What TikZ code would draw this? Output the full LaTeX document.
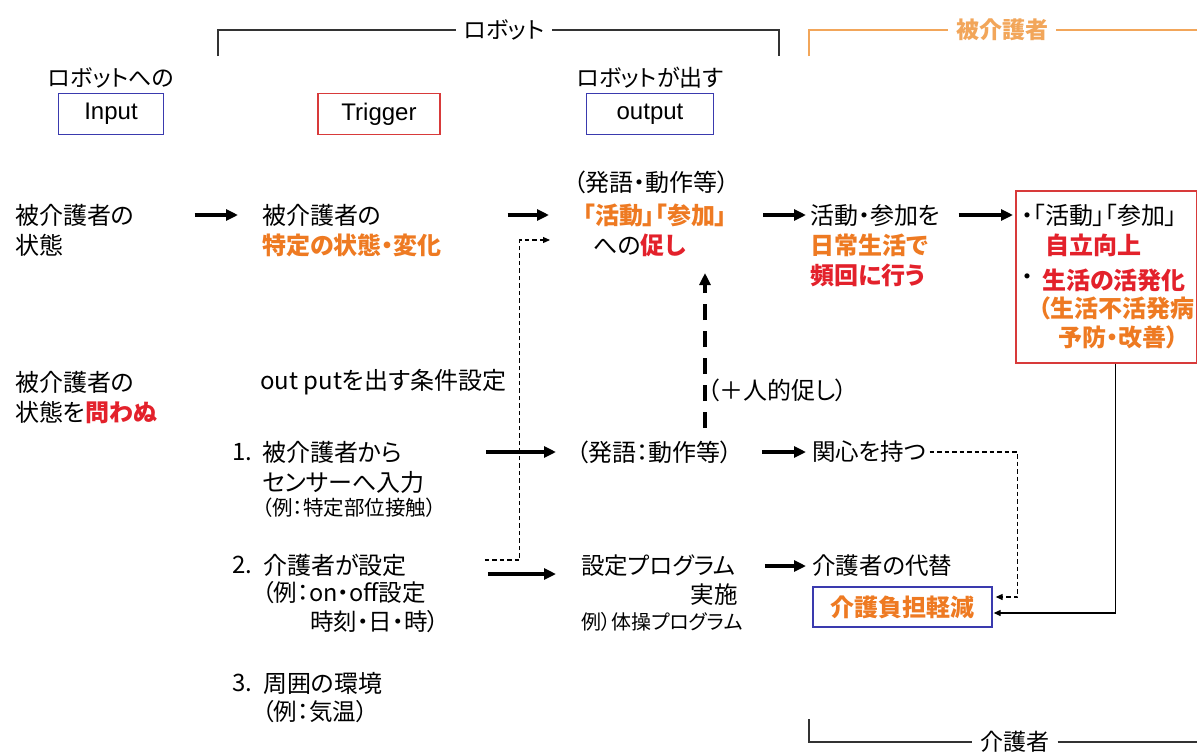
\documentclass[tikz,border=0pt]{standalone}
\usepackage{fontspec}
\setmainfont{Noto Sans CJK JP}[RawFeature=+palt]
\newfontfamily\arialf{Liberation Sans}
\usetikzlibrary{arrows.meta}
\definecolor{org}{HTML}{EE7A22}
\definecolor{rd}{HTML}{E3212B}
\definecolor{brk}{HTML}{F2A65A}
\definecolor{bxblue}{HTML}{3A3AAE}
\definecolor{bxred}{HTML}{D83A3A}
\newcommand\fz[1]{\fontsize{#1}{#1}\selectfont}
\newcommand\og[1]{{\bfseries\color{org}#1}}
\newcommand\rg[1]{{\bfseries\color{rd}#1}}

\begin{document}
\begin{tikzpicture}[x=1pt,y=-1pt,
  t/.style={inner sep=0pt, anchor=west, font=\fz{24}},
  tm/.style={inner sep=0pt, anchor=west, font=\fz{23.5}},
  ts/.style={inner sep=0pt, anchor=west, font=\fz{20.5}},
  hdr/.style={inner sep=0pt, font=\fz{23}},
  blbl/.style={inner xsep=8pt, inner ysep=0pt, font=\fz{23}},
  tag/.style={draw, line width=1.3pt, minimum height=41pt, inner sep=0pt, font=\arialf\fz{24}},
  brline/.style={line width=1.2pt, draw=black!80},
  arr/.style={line width=3.2pt, -{Triangle[length=12pt,width=11pt]}},
  thinarr/.style={line width=1.1pt, -{Triangle[length=7pt,width=6pt]}},
  dsh/.style={thinarr, dash pattern=on 4.5pt off 3pt},
  tdash/.style={line width=3.2pt, dash pattern=on 16pt off 11pt, -{Triangle[length=12pt,width=11pt]}},
]
\fill[white] (0,0) rectangle (1197,753);
\useasboundingbox (0,0) rectangle (1197,753);

% ---- brackets ----
\node[blbl] (robot) at (504,30) {ロボット};
\coordinate (rbL) at (218,56);
\coordinate (rbR) at (779,56);
\draw[brline] (rbL) |- (robot.west);
\draw[brline] (robot.east) -| (rbR);

\node[blbl, text=brk, font=\fz{23}\bfseries] (care) at (1002,30) {被介護者};
\coordinate (cbL) at (809,56);
\coordinate (cbR) at (1197,30);
\draw[brline, draw=brk] (cbL) |- (care.west);
\draw[brline, draw=brk] (care.east) -- (cbR);

\node[blbl] (carer) at (1015,742) {介護者};
\coordinate (kbL) at (809,719);
\coordinate (kbR) at (1197,742);
\draw[brline] (kbL) |- (carer.west);
\draw[brline] (carer.east) -- (kbR);

% ---- headers ----
\node[hdr] (inlbl) at (111,78) {ロボットへの};
\node[tag, draw=bxblue, minimum width=105pt] (input) at (111,114) {Input};
\node[tag, draw=bxred, minimum width=122pt] (trig) at (379,114) {Trigger};
\node[hdr] (outlbl) at (650,78) {ロボットが出す};
\node[tag, draw=bxblue, minimum width=127pt] (outp) at (650,114) {output};

% ---- row 1 ----
\node[t] (s1a) at (15,215) {被介護者の};
\node[t] (s1b) at (15,245) {状態};
\node[t] (t1a) at (262,215) {被介護者の};
\node[t] (t1b) at (262,245) {\og{特定の状態・変化}};
\node[t] (o0) at (573,182) {（発語・動作等）};
\node[t] (o1a) at (583,215) {\og{「活動」「参加」}};
\node[t] (o1b) at (593,245) {への\rg{促し}};
\node[t] (r1a) at (810,215) {活動・参加を};
\node[t] (r1b) at (810,245) {\og{日常生活で}};
\node[t] (r1c) at (810,275) {\rg{頻回に行う}};

% red result box
\node[draw=bxred, line width=1.6pt, anchor=north west, minimum width=181pt, minimum height=172pt, inner sep=0pt] (rb) at (1015,190) {};
\node[t] (rb1) at (1021,215) {・「活動」「参加」};
\node[t] (rb2) at (1045,245) {\rg{自立向上}};
\node[t] (rb3d) at (1021,280) {・};
\node[t] (rb3) at (1042,280) {\rg{生活の活発化}};
\node[t] (rb4) at (1038,308) {\og{（生活不活発病}};
\node[t] (rb5) at (1058,337) {\og{予防・改善）}};

% ---- row 2 ----
\node[t] (s2a) at (15,382) {被介護者の};
\node[t] (s2b) at (15,412) {状態を\rg{問わぬ}};
\node[t] (cond) at (260,382) {out putを出す条件設定};
\node[t] (hum) at (707,390) {（＋人的促し）};

% ---- conditions ----
\node[t] (n1) at (232,452) {1.};
\node[t] (i1a) at (262,452) {被介護者から};
\node[t] (i1b) at (262,482) {センサーへ入力};
\node[ts] (i1c) at (262,508) {（例：特定部位接触）};
\node[t] (n2) at (232,565) {2.};
\node[t] (i2a) at (263,565) {介護者が設定};
\node[tm] (i2b) at (262,593) {（例：on・off設定};
\node[tm] (i2c) at (310,622) {時刻・日・時）};
\node[t] (n3) at (232,683) {3.};
\node[t] (i3a) at (263,683) {周囲の環境};
\node[tm] (i3b) at (262,712) {（例：気温）};

% ---- outputs ----
\node[t] (o3) at (576,452) {（発語：動作等）};
\node[tm] (o4a) at (581,566) {設定プログラム};
\node[tm, anchor=east] (o4b) at (738,595) {実施};
\node[ts, font=\fz{20}] (o4c) at (581,622) {例）体操プログラム};
\node[tm] (int) at (812,452) {関心を持つ};
\node[tm] (sub) at (812,566) {介護者の代替};
\node[draw=bxblue, line width=1.3pt, minimum width=179pt, minimum height=40pt, inner sep=0pt, font=\fz{24}] (burden) at (902.5,607) {\og{介護負担軽減}};

% ---- thick arrows ----
\draw[arr] ([xshift=60pt]s1a.east) -- ([xshift=-24pt]t1a.west);
\draw[arr] ([xshift=126pt]t1a.east) -- ([xshift=-34pt]o1a.west);
\draw[arr] ([xshift=36pt]o1a.east) -- ([xshift=-4pt]r1a.west);
\draw[arr] ([xshift=18pt]r1a.east) -- ([shift={(-2,25)}]rb.north west);
\draw[arr] ([xshift=84pt]i1a.east) -- ([xshift=-20pt]o3.west);
\draw[arr] ([xshift=30pt]o3.east) -- ([xshift=-6pt]int.west);
\draw[arr] ([shift={(81,9)}]i2a.east) -- ([shift={(-25,8)}]o4a.west);
\draw[arr] ([xshift=29pt]o4a.east) -- ([xshift=-6pt]sub.west);

% ---- thick dashed (human prompt) ----
\coordinate (hs) at (705,428);
\coordinate (ht) at (705,273);
\draw[tdash] (hs) -- (ht);

% ---- thin dashed / thin arrows ----
\draw[dsh] ([shift={(78,-5)}]i2a.east) -- ++(35,0) |- ([shift={(-43,-5)}]o1b.west);
\draw[dsh] ([xshift=3pt]int.east) -- ++(88,0) |- ([shift={(3,-10)}]burden.east);
\draw[thinarr] ([xshift=9.5pt]rb.south) |- ([shift={(1,6)}]burden.east);
\end{tikzpicture}
\end{document}
